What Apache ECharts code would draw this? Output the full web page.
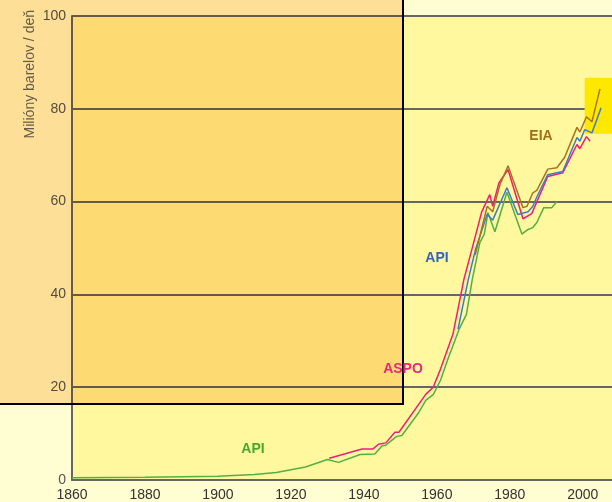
<!DOCTYPE html>
<html>
<head>
<meta charset="utf-8">
<script src="https://cdn.jsdelivr.net/npm/echarts@6/dist/echarts.min.js"></script>
<style>
    html, body { margin: 0; padding: 0; background: #fffdd2; }
    #main { width: 612px; height: 502px; }
</style>
</head>
<body>
<div id="main"></div>
<script>
// API (zelena), od 1860
const apiOldYears = [1860, 1880, 1900, 1910, 1916, 1924, 1930, 1933, 1939, 1943, 1945, 1946, 1949, 1950.4, 1955, 1957, 1959, 1961, 1963, 1966.1, 1968.1, 1969.7, 1971.8, 1973, 1974, 1975.9, 1979.2, 1983.3, 1985, 1986.3, 1987.4, 1989.3, 1991.5, 1992.9];
const apiOldValues = [0.5, 0.6, 0.8, 1.2, 1.6, 2.8, 4.4, 3.8, 5.5, 5.6, 7.4, 7.5, 9.4, 9.6, 14.5, 17.2, 18.4, 21.5, 26, 32.5, 35.7, 43.2, 51.2, 53, 57.6, 53.5, 62, 53, 54, 54.4, 55.5, 58.7, 58.7, 60];

// ASPO (ruzova)
const aspoYears = [1930.5, 1939.5, 1942.5, 1944, 1946, 1948.5, 1949.6, 1957, 1959, 1961, 1964.4, 1967.4, 1969.6, 1972.3, 1974.5, 1975.3, 1977, 1979.5, 1983.6, 1986, 1990.4, 1994.5, 1998.4, 1999.2, 2001, 2002];
const aspoValues = [4.7, 6.7, 6.7, 7.7, 8.0, 10.3, 10.3, 18.5, 20, 23.9, 31.4, 43.2, 49.7, 57.8, 61.5, 59, 64, 66.9, 56.3, 57.4, 65.4, 66.2, 72.3, 71.4, 74, 73];

// API (modra)
const apiYears = [1965.8, 1968.6, 1970.6, 1973.8, 1975.3, 1979.2, 1982.2, 1985, 1986.3, 1987.4, 1990.4, 1994.5, 1998.4, 1999.2, 2000.5, 2002.5, 2005];
const apiValues = [32.5, 43.2, 49.7, 57.3, 56, 63, 57.2, 57.8, 59, 61, 65.8, 66.5, 73.8, 73, 75.5, 74.8, 80.2];

// EIA (hneda)
const eiaYears = [1970.5, 1973.8, 1975.3, 1977.3, 1979.5, 1983.6, 1984.7, 1986.3, 1987.4, 1990.4, 1992.9, 1995, 1998.4, 1999.2, 2001, 2002.5, 2004.7];
const eiaValues = [48.5, 59, 57.8, 63.7, 67.7, 58.7, 59, 61.9, 62.4, 67, 67.3, 69.5, 76, 75, 78.3, 77.2, 84.3];

const xTicks = [1860, 1880, 1900, 1920, 1940, 1960, 1980, 2000];
const yTicks = [0, 20, 40, 60, 80, 100];

function zip(xs, ys) {
    return xs.map((x, i) => [x, ys[i]]);
}

function lineSeries(name, xs, ys, color) {
    return {
        name: name,
        type: 'line',
        data: zip(xs, ys),
        symbol: 'none',
        smooth: false,
        z: 3,
        lineStyle: { color: color, width: 1.5 },
        animation: false
    };
}

let chart = echarts.init(document.getElementById('main'));
let font = 'Liberation Sans, Arial, sans-serif';

let option = {
    backgroundColor: '#fffdd2',
    animation: false,
    grid: {
        left: 72, right: 0, top: 16, bottom: 21,
        show: true, borderWidth: 0, backgroundColor: '#fff89f'
    },
    xAxis: {
        type: 'value',
        min: 1860, max: 2008, interval: 20,
        axisLine: { show: true, lineStyle: { color: '#666', width: 2 } },
        axisTick: { show: false },
        splitLine: { show: false },
        axisLabel: {
            color: '#333', fontSize: 14, fontFamily: font, margin: 8,
            showMaxLabel: false,
            formatter: v => xTicks.indexOf(v) >= 0 ? String(v) : ''
        }
    },
    yAxis: {
        type: 'value',
        min: 0, max: 100, interval: 20,
        axisLine: { show: true, lineStyle: { color: '#666', width: 2 } },
        axisTick: { show: false },
        splitLine: { show: true, lineStyle: { color: '#666', width: 2 } },
        axisLabel: {
            color: '#555', fontSize: 14, fontFamily: font, margin: 6,
            formatter: v => yTicks.indexOf(v) >= 0 ? String(v) : ''
        }
    },
    series: [
        {
            type: 'line', data: [], z: 1, silent: true,
            markArea: {
                silent: true,
                itemStyle: { color: '#ffe800', opacity: 1 },
                data: [[{ coord: [2000.5, 86.7] }, { coord: [2008, 74.6] }]]
            }
        },
        lineSeries('API', apiOldYears, apiOldValues, '#52b043'),
        lineSeries('ASPO', aspoYears, aspoValues, '#ee1f7a'),
        lineSeries('API', apiYears, apiValues, '#3d7cc9'),
        lineSeries('EIA', eiaYears, eiaValues, '#a5741f')
    ],
    graphic: [
        {
            type: 'text', left: 23, top: 10, z: 10, rotation: Math.PI / 2,
            style: { text: 'Milióny barelov / deň', fill: '#666', font: '14px ' + font }
        },
        {
            type: 'rect', z: 50, silent: true,
            shape: { x: -2, y: -2, width: 405, height: 406 },
            style: { fill: 'rgb(253,225,183)', stroke: '#000', lineWidth: 2, blend: 'multiply' }
        },
        {
            type: 'text', x: 253, y: 449, z: 60,
            style: { text: 'API', fill: '#4aa832', font: 'bold 14px ' + font, align: 'center', verticalAlign: 'middle' }
        },
        {
            type: 'text', x: 403, y: 369, z: 60,
            style: { text: 'ASPO', fill: '#e8287a', font: 'bold 14px ' + font, align: 'center', verticalAlign: 'middle' }
        },
        {
            type: 'text', x: 437, y: 258, z: 60,
            style: { text: 'API', fill: '#3366bb', font: 'bold 14px ' + font, align: 'center', verticalAlign: 'middle' }
        },
        {
            type: 'text', x: 541, y: 136, z: 60,
            style: { text: 'EIA', fill: '#a0701a', font: 'bold 14px ' + font, align: 'center', verticalAlign: 'middle' }
        }
    ]
};
chart.setOption(option);
</script>
</body>
</html>
